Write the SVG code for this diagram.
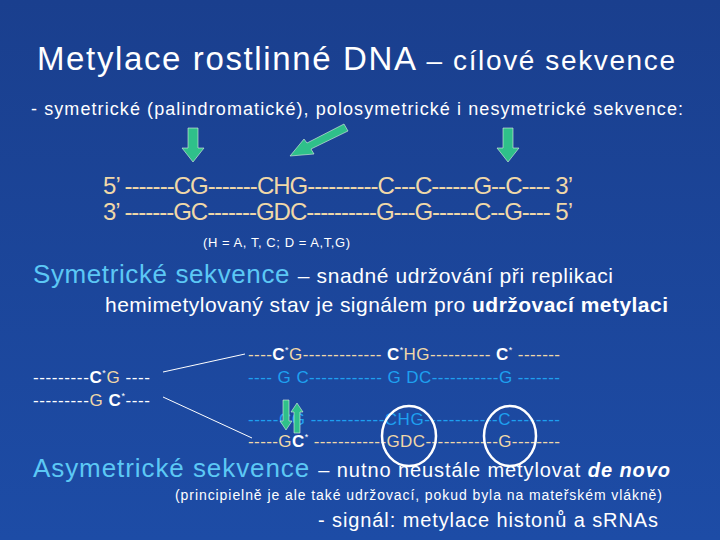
<svg xmlns="http://www.w3.org/2000/svg" width="720" height="540" viewBox="0 0 720 540">
<defs>
<linearGradient id="bg" x1="0" y1="0" x2="0" y2="1"><stop offset="0" stop-color="#1a3f8e"/><stop offset="1" stop-color="#1d4ca6"/></linearGradient>
<style>
text{font-family:"Liberation Sans",Arial,sans-serif;}
.w{fill:#fff}.b{fill:#f0d8a8}.lb{fill:#5cc8f5}.cy{fill:#1ea0f0}
.seq{font-size:24px}.sm{font-size:17px}
.ar{fill:#2fc08a;stroke:#e0f0e0;stroke-width:0.6}
</style>
</defs>
<rect width="720" height="540" fill="url(#bg)"/>
<text x="37" y="70" class="w" font-size="33" textLength="638" lengthAdjust="spacing">Metylace rostlinné DNA <tspan font-size="28">– cílové sekvence</tspan></text>
<text x="31" y="115" class="w" font-size="18" textLength="652" lengthAdjust="spacing">- symetrické (palindromatické), polosymetrické i nesymetrické sekvence:</text>
<g id="arrows">
<polygon class="ar" points="188,128 198,128 198,148 204,148 193,162 182,148 188,148"/>
<polygon class="ar" points="344,124 348,131 311,149 314,154 290,156 304,139 307,143"/>
<polygon class="ar" points="503,128 513,128 513,148 519,148 508,162 497,148 503,148"/>
</g>
<text x="103" y="194" class="b seq" textLength="470" lengthAdjust="spacing">5’ -------CG-------CHG----------C---C------G--C---- 3’</text>
<text x="103" y="220" class="b seq" textLength="470" lengthAdjust="spacing">3’ -------GC-------GDC----------G---G------C--G---- 5’</text>
<text x="203" y="247" class="w" font-size="13" textLength="147" lengthAdjust="spacing">(H = A, T, C; D = A,T,G)</text>
<text x="33" y="283" class="lb" font-size="26" textLength="580" lengthAdjust="spacing">Symetrické sekvence <tspan class="w" font-size="21">– snadné udržování při replikaci</tspan></text>
<text x="105" y="312" class="w" font-size="21" textLength="563" lengthAdjust="spacing">hemimetylovaný stav je signálem pro <tspan font-weight="bold">udržovací metylaci</tspan></text>
<g id="left">
<text x="33" y="383" class="sm" textLength="117" lengthAdjust="spacing"><tspan class="w">---------</tspan><tspan class="w" font-weight="bold">C</tspan><tspan class="w" font-size="9" dy="-7">*</tspan><tspan class="b" dy="7">G</tspan><tspan class="w"> ----</tspan></text>
<text x="33" y="406" class="sm" textLength="117" lengthAdjust="spacing"><tspan class="w">---------</tspan><tspan class="b">G </tspan><tspan class="w" font-weight="bold">C</tspan><tspan class="w" font-size="9" dy="-7">*</tspan><tspan class="w" dy="7">----</tspan></text>
</g>
<g id="connectors" stroke="#fff" stroke-width="1" fill="none">
<line x1="163" y1="372" x2="245" y2="354"/>
<line x1="163" y1="397" x2="252" y2="438"/>
</g>
<g id="right" class="sm">
<text x="248" y="360" textLength="312" lengthAdjust="spacing"><tspan class="b">----</tspan><tspan class="w" font-weight="bold">C</tspan><tspan class="w" font-size="9" dy="-7">*</tspan><tspan class="b" dy="7">G------------- </tspan><tspan class="w" font-weight="bold">C</tspan><tspan class="w" font-size="9" dy="-7">*</tspan><tspan class="b" dy="7">HG---------- </tspan><tspan class="w" font-weight="bold">C</tspan><tspan class="w" font-size="9" dy="-7">*</tspan><tspan class="b" dy="7"> -------</tspan></text>
<text x="248" y="383" class="cy" textLength="312" lengthAdjust="spacing">---- G C------------  G DC-----------G -------</text>
<text x="248" y="425" class="cy" textLength="312" lengthAdjust="spacing">-----CG ------------CHG------------C--------</text>
<text x="248" y="447" textLength="312" lengthAdjust="spacing"><tspan class="b">-----G</tspan><tspan class="w" font-weight="bold">C</tspan><tspan class="w" font-size="9" dy="-7">*</tspan><tspan class="b" dy="7"> ------------GDC------------G--------</tspan></text>
<polygon class="ar" points="283,400 289,400 289,421 292,421 286,430 280,421 283,421"/>
<polygon class="ar" points="294,433 300,433 300,412 303,412 297,403 291,412 294,412"/>
<ellipse cx="409" cy="436" rx="27" ry="30" fill="none" stroke="#fff" stroke-width="2.5"/>
<ellipse cx="510" cy="436" rx="26" ry="30" fill="none" stroke="#fff" stroke-width="2.5"/>
</g>
<text x="33" y="477" class="lb" font-size="26" textLength="637" lengthAdjust="spacing">Asymetrické sekvence <tspan class="w" font-size="20">– nutno neustále metylovat <tspan font-weight="bold" font-style="italic">de novo</tspan></tspan></text>
<text x="175" y="500" class="w" font-size="14" textLength="487" lengthAdjust="spacing">(principielně je ale také udržovací, pokud byla na mateřském vlákně)</text>
<text x="318" y="527" class="w" font-size="20" textLength="340" lengthAdjust="spacing">- signál: metylace histonů a sRNAs</text>
</svg>
